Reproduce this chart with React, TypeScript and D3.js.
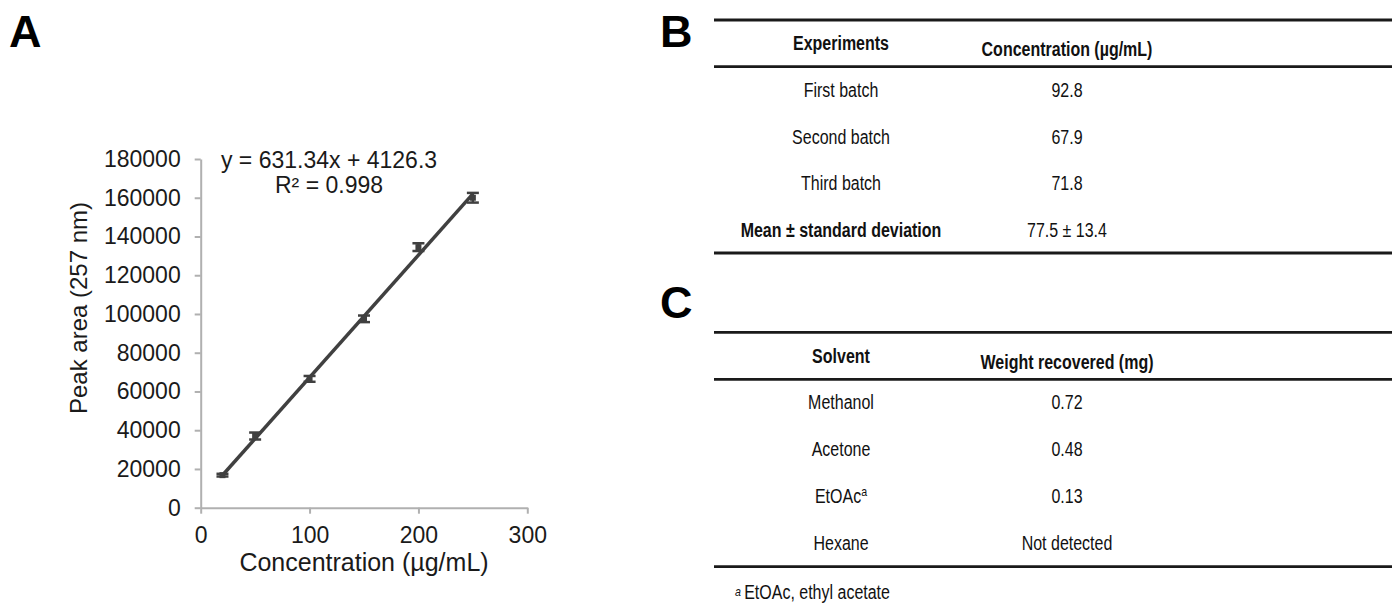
import React, { useRef, useEffect } from "react";
import * as d3 from "d3";

// calibration curve (panel A)
const concentrations = [20, 50, 100, 150, 200, 250];
const peakAreas = [16800, 37000, 66500, 97500, 134500, 160000];
const peakErrors = [700, 1800, 1500, 1700, 2000, 2500];
const slope = 631.34;
const intercept = 4126.3;
const yTicks = [0, 20000, 40000, 60000, 80000, 100000, 120000, 140000, 160000, 180000];
const xTicks = [0, 100, 200, 300];

// panel B table
const batchHeaders = ["Experiments", "Concentration (µg/mL)"];
const batchNames = ["First batch", "Second batch", "Third batch", "Mean ± standard deviation"];
const batchValues = ["92.8", "67.9", "71.8", "77.5 ± 13.4"];

// panel C table
const solventHeaders = ["Solvent", "Weight recovered (mg)"];
const solventNames = ["Methanol", "Acetone", "EtOAc", "Hexane"];
const solventWeights = ["0.72", "0.48", "0.13", "Not detected"];

const W = 1392;
const H = 609;
const SANS = "Liberation Sans, Arial, sans-serif";
const NARROW_SCALE = 0.82; // no narrow font installed, squeeze Liberation Sans instead

const App = () => {
  const ref = useRef<SVGSVGElement>(null);

  useEffect(() => {
    const svg = d3.select(ref.current);
    svg.selectAll("*").remove();

    const x = d3.scaleLinear().domain([0, 300]).range([200.7, 527.3]);
    const y = d3.scaleLinear().domain([0, 180000]).range([507.7, 159]);

    // panel labels
    const labels = [
      { t: "A", x: 9, y: 47 },
      { t: "B", x: 660, y: 47 },
      { t: "C", x: 660, y: 318 },
    ];
    svg.selectAll("text.panel")
      .data(labels)
      .enter()
      .append("text")
      .attr("class", "panel")
      .attr("x", (d) => d.x)
      .attr("y", (d) => d.y)
      .attr("font-family", SANS)
      .attr("font-weight", "bold")
      .attr("font-size", 45)
      .text((d) => d.t);

    // axes
    const yAxis = svg.append("g")
      .attr("transform", `translate(${x(0)},0)`)
      .call(d3.axisLeft(y).tickValues(yTicks).tickSize(6).tickSizeOuter(0).tickPadding(14).tickFormat(d3.format("d")));
    const xAxis = svg.append("g")
      .attr("transform", `translate(0,${y(0)})`)
      .call(d3.axisBottom(x).tickValues(xTicks).tickSize(6).tickSizeOuter(0).tickPadding(13).tickFormat(d3.format("d")));
    [yAxis, xAxis].forEach((g) => {
      g.select(".domain").attr("stroke", "#b0b0b0").attr("stroke-width", 2);
      g.selectAll(".tick line").attr("stroke", "#b0b0b0").attr("stroke-width", 2);
      g.selectAll(".tick text").attr("fill", "#1a1a1a").attr("font-size", 23).attr("font-family", SANS);
    });

    // axis titles
    svg.append("text")
      .attr("x", 364)
      .attr("y", 571)
      .attr("text-anchor", "middle")
      .attr("font-family", SANS)
      .attr("font-size", 25)
      .attr("fill", "#1a1a1a")
      .text("Concentration (µg/mL)");
    svg.append("text")
      .attr("transform", "translate(87,308) rotate(-90)")
      .attr("text-anchor", "middle")
      .attr("font-family", SANS)
      .attr("font-size", 24)
      .attr("fill", "#1a1a1a")
      .text("Peak area (257 nm)");

    // regression equation
    svg.append("text")
      .attr("x", 329).attr("y", 168)
      .attr("text-anchor", "middle")
      .attr("font-family", SANS).attr("font-size", 23).attr("fill", "#1a1a1a")
      .text(`y = ${slope}x + ${intercept}`);
    svg.append("text")
      .attr("x", 329).attr("y", 193)
      .attr("text-anchor", "middle")
      .attr("font-family", SANS).attr("font-size", 23).attr("fill", "#1a1a1a")
      .text("R² = 0.998");

    // trend line
    const ends = [concentrations[0], concentrations[concentrations.length - 1]];
    svg.append("path")
      .datum(ends)
      .attr("fill", "none")
      .attr("stroke", "#404040")
      .attr("stroke-width", 3.5)
      .attr("d", d3.line<number>().x((d) => x(d)).y((d) => y(slope * d + intercept)));

    const pts = concentrations.map((c, i) => ({ c, v: peakAreas[i], e: peakErrors[i] }));
    const bars = svg.append("g").attr("stroke", "#404040").attr("stroke-width", 2.5);
    pts.forEach((d) => {
      bars.append("line").attr("x1", x(d.c)).attr("x2", x(d.c)).attr("y1", y(d.v - d.e)).attr("y2", y(d.v + d.e));
      bars.append("line").attr("x1", x(d.c) - 6).attr("x2", x(d.c) + 6).attr("y1", y(d.v - d.e)).attr("y2", y(d.v - d.e));
      bars.append("line").attr("x1", x(d.c) - 6).attr("x2", x(d.c) + 6).attr("y1", y(d.v + d.e)).attr("y2", y(d.v + d.e));
    });
    svg.append("g")
      .selectAll("rect")
      .data(pts)
      .enter()
      .append("rect")
      .attr("x", (d) => x(d.c) - 3)
      .attr("y", (d) => y(d.v) - 3)
      .attr("width", 6)
      .attr("height", 6)
      .attr("fill", "#404040");

    // narrow text: squeezed horizontally around its anchor
    const narrowText = (parent: any, tx: number, ty: number, anchor: string, bold: boolean) =>
      parent.append("g")
        .attr("transform", `translate(${tx},${ty}) scale(${NARROW_SCALE},1)`)
        .append("text")
        .attr("dy", "0.35em")
        .attr("text-anchor", anchor)
        .attr("font-family", SANS)
        .attr("font-weight", bold ? "bold" : "normal")
        .attr("font-size", 19.5)
        .attr("fill", "#111");

    // tables
    const drawTable = (
      top: number, headY: number, bottom: number,
      headers: string[], headYs: number[], names: string[], values: string[], rowYs: number[], boldLast: boolean
    ) => {
      const g = svg.append("g");
      [top, headY, bottom].forEach((ly) => {
        g.append("line").attr("x1", 714).attr("x2", W).attr("y1", ly).attr("y2", ly)
          .attr("stroke", "#1a1a1a").attr("stroke-width", 2.8);
      });
      const cols = [841, 1067];
      headers.forEach((h, i) => {
        narrowText(g, cols[i], headYs[i], "middle", true).text(h);
      });
      names.forEach((n, i) => {
        const t = narrowText(g, cols[0], rowYs[i], "middle", boldLast && i === names.length - 1).text(n);
        if (n === "EtOAc") {
          t.append("tspan").attr("font-size", 13).attr("dy", "-0.55em").text("a");
        }
        narrowText(g, cols[1], rowYs[i], "middle", false).text(values[i]);
      });
    };

    drawTable(20, 66.7, 253, batchHeaders, [43, 49], batchNames, batchValues, [90, 137, 183, 230], true);
    drawTable(332.3, 379.3, 566.7, solventHeaders, [356, 362], solventNames, solventWeights, [402, 449, 496, 543], false);

    // footnote
    const foot = narrowText(svg, 735, 598, "start", false);
    foot.append("tspan").attr("font-size", 13).attr("font-style", "italic").attr("dy", "-0.15em").text("a");
    foot.append("tspan").attr("dx", 4).attr("dy", "0.15em").text("EtOAc, ethyl acetate");
  }, []);

  return (
    <div style={{ position: "absolute", left: 0, top: 0 }}>
      <svg ref={ref} width={W} height={H} style={{ display: "block", background: "#fff" }} />
    </div>
  );
};

export default App;
